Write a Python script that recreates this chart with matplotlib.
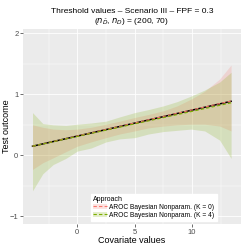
import numpy as np
import matplotlib
matplotlib.use("Agg")
import matplotlib.pyplot as plt
from matplotlib.patches import Patch
from matplotlib.lines import Line2D

plt.rcParams['font.family'] = ['Liberation Sans', 'DejaVu Sans']

xs = [-3.9, -3.0, -2.1, -1.0, 0.0, 1.2, 2.5, 3.7, 5.0, 6.2, 7.5, 8.7, 9.9, 11.1, 12.4, 13.4]
k4_upper = [0.70, 0.52, 0.50, 0.49, 0.51, 0.53, 0.56, 0.63, 0.70, 0.75, 0.81, 0.88, 0.97, 1.07, 1.20, 1.36]
k4_lower = [-0.58, -0.30, -0.15, -0.05, 0.07, 0.12, 0.22, 0.27, 0.29, 0.35, 0.39, 0.41, 0.43, 0.40, 0.25, -0.05]
k0_upper = [0.50, 0.46, 0.43, 0.42, 0.43, 0.46, 0.51, 0.56, 0.62, 0.67, 0.73, 0.81, 0.92, 1.05, 1.25, 1.48]
k0_lower = [-0.23, -0.12, -0.04, 0.06, 0.15, 0.22, 0.29, 0.35, 0.40, 0.45, 0.48, 0.50, 0.51, 0.51, 0.48, 0.40]

line_x = [-3.9, 13.4]
true_line = [0.15, 0.885]
k0_line = [0.15, 0.89]
k4_line = [0.15, 0.86]

labels = ['AROC Bayesian Nonparam. (K = 0)', 'AROC Bayesian Nonparam. (K = 4)']
colors = ['#F8766D', '#7CAE00']
band_alpha = 0.2

fig = plt.figure(figsize=(2.45, 2.45), dpi=100)
ax = fig.add_axes([0.092, 0.084, 0.892, 0.798])
ax.set_facecolor('#EBEBEB')

ax.fill_between(xs, k0_lower, k0_upper, color=colors[0], alpha=band_alpha, lw=0)
ax.fill_between(xs, k4_lower, k4_upper, color=colors[1], alpha=band_alpha, lw=0)
ax.plot(line_x, true_line, color='black', lw=1.1)
ax.plot(line_x, k0_line, color=colors[0], lw=0.8, ls=(0, (3, 2)))
ax.plot(line_x, k4_line, color=colors[1], lw=0.8, ls=(0, (3, 2)))

ax.set_xlim(-4.77, 14.27)
ax.set_ylim(-1.13, 2.07)
ax.set_xticks([0, 5, 10])
ax.set_yticks([-1, 0, 1, 2])
ax.set_xticks([-2.5, 2.5, 7.5, 12.5], minor=True)
ax.set_yticks([-0.5, 0.5, 1.5], minor=True)
ax.grid(which='major', color='white', lw=0.6)
ax.grid(which='minor', color='white', lw=0.3)
ax.set_axisbelow(True)
for s in ax.spines.values():
    s.set_visible(False)
ax.tick_params(which='major', length=2, width=0.5, color='#333333', labelsize=5.5,
               labelcolor='#4D4D4D', pad=1.0)
ax.tick_params(which='minor', length=0)

ax.set_xlabel('Covariate values', fontsize=6.5)
ax.set_ylabel('Test outcome', fontsize=6.5)
ax.xaxis.set_label_coords(0.5, -0.057)
ax.yaxis.set_label_coords(-0.055, 0.5)
ax.set_title('Threshold values \u2013 Scenario III \u2013 FPF = 0.3\n'
             r'($n_{\bar{D}}$, $n_D$) = (200, 70)', fontsize=6, pad=4)

handles = []
for c in colors:
    handles.append((Patch(facecolor=c, alpha=band_alpha, edgecolor='none'),
                    Line2D([], [], color=c, lw=0.8, ls=(0, (3, 2)))))
leg = ax.legend(handles, labels, title='Approach', loc='lower center',
                bbox_to_anchor=(0.6, 0.02), fontsize=4.8, title_fontsize=5,
                frameon=True, fancybox=False, framealpha=1, edgecolor='white',
                handlelength=2.2, handletextpad=0.3, labelspacing=0.15,
                borderpad=0.3, borderaxespad=0)
leg._legend_box.align = 'left'

fig.savefig('out.png', dpi=100)
